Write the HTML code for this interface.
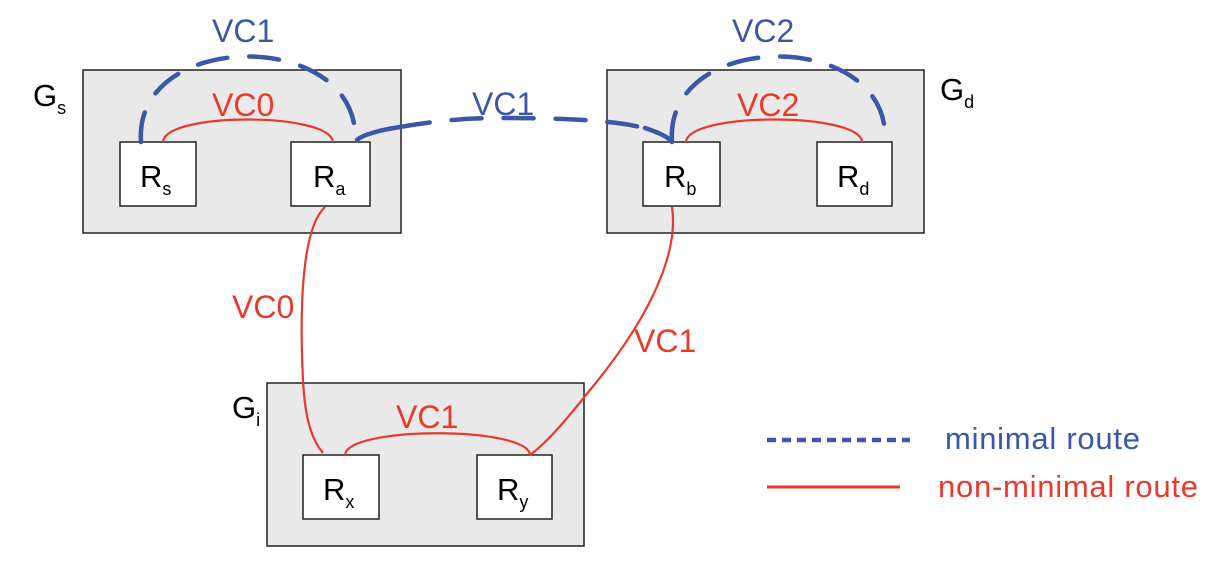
<!DOCTYPE html>
<html><head><meta charset="utf-8"><style>
body{margin:0;background:#fff}
svg{display:block}
text{font-family:"Liberation Sans",sans-serif}
</style></head><body>
<svg width="1213" height="572" viewBox="0 0 1213 572">
<g fill="#e9e9e9" stroke="#222" stroke-width="1.5">
<rect x="83" y="70" width="318" height="163"/>
<rect x="607" y="70" width="317" height="163"/>
<rect x="267" y="383" width="317" height="163"/>
</g>
<g fill="#fff" stroke="#222" stroke-width="1.5">
<rect x="120" y="142" width="76" height="64"/>
<rect x="291" y="142" width="79" height="64"/>
<rect x="643" y="142" width="77" height="64"/>
<rect x="817" y="142" width="75" height="64"/>
<rect x="303" y="455" width="76" height="64"/>
<rect x="477" y="455" width="75" height="64"/>
</g>
<g fill="#000" font-size="31">
<text x="140" y="187">R<tspan font-size="18" dy="8">s</tspan></text>
<text x="313" y="187">R<tspan font-size="18" dy="8">a</tspan></text>
<text x="664" y="187">R<tspan font-size="18" dy="8">b</tspan></text>
<text x="837" y="187">R<tspan font-size="18" dy="8">d</tspan></text>
<text x="323" y="500">R<tspan font-size="18" dy="8">x</tspan></text>
<text x="497" y="500">R<tspan font-size="18" dy="8">y</tspan></text>
<text x="33" y="106">G<tspan font-size="18" dy="8">s</tspan></text>
<text x="940" y="100">G<tspan font-size="18" dy="8">d</tspan></text>
<text x="232" y="418">G<tspan font-size="18" dy="8">i</tspan></text>
</g>
<g fill="none" stroke="#e8392b" stroke-width="2.2">
<path d="M163 142 C165 112 330 112 333 142"/>
<path d="M686 142 C688 112 860 112 862 142"/>
<path d="M345 455 C347 426 528 426 530 455"/>
<path d="M325 207 C300 230 300 320 303 380 C305 420 312 440 323 453"/>
<path d="M672 207 C680 260 640 330 590 390 C570 415 550 440 530 455"/>
<line x1="767" y1="487" x2="900" y2="487" stroke-width="3"/>
</g>
<g fill="none" stroke="#3b57a8" stroke-width="4.5" stroke-linecap="round">
<path stroke-dasharray="30 22" d="M141 142 C133 28 362 28 355 142"/>
<path stroke-dasharray="30 22" d="M672 142 C664 28 892 28 885 142"/>
<path stroke-dasharray="30 22" d="M400 127 C440 120 470 118 500 118 C560 118 610 120 640 127"/>
<path d="M400 127 C380 130 362 135 357 140"/>
<path d="M645 128 C660 133 668 137 671 141"/>
<line x1="767" y1="440" x2="910" y2="440" stroke-dasharray="9 6" stroke-linecap="butt"/>
</g>
<g font-size="32">
<text x="212" y="42" fill="#3b57a8">VC1</text>
<text x="732" y="42" fill="#3b57a8">VC2</text>
<text x="472" y="115" fill="#3b57a8">VC1</text>
<text x="212" y="116" fill="#e8392b">VC0</text>
<text x="737" y="116" fill="#e8392b">VC2</text>
<text x="232" y="318" fill="#e8392b">VC0</text>
<text x="634" y="352" fill="#e8392b">VC1</text>
<text x="396" y="428" fill="#e8392b">VC1</text>
</g>
<text x="945" y="449" font-size="31" fill="#3b57a8" textLength="195">minimal route</text>
<text x="938" y="497" font-size="31" fill="#e8392b" textLength="260">non-minimal route</text>
</svg>
</body></html>
